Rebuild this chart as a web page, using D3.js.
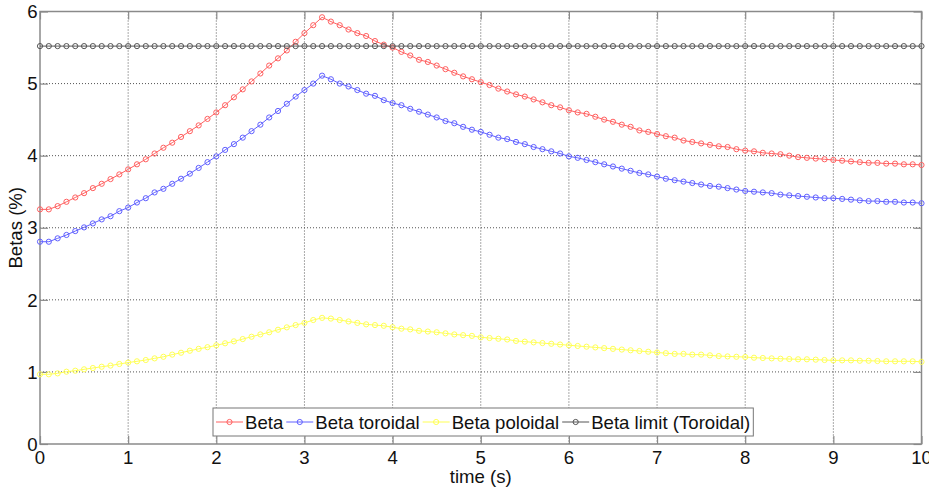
<!DOCTYPE html>
<html><head><meta charset="utf-8">
<script src="https://cdn.jsdelivr.net/npm/d3@7"></script>
<style>
html,body{margin:0;padding:0;background:#fff;}
svg{display:block;font-family:Arial,"Liberation Sans",sans-serif;}
</style></head>
<body><svg id="c" width="929" height="488"></svg>
<script>
const time = [0,0.1,0.2,0.3,0.4,0.5,0.6,0.7,0.8,0.9,1,1.1,1.2,1.3,1.4,1.5,1.6,1.7,1.8,1.9,2,2.1,2.2,2.3,2.4,2.5,2.6,2.7,2.8,2.9,3,3.1,3.2,3.3,3.4,3.5,3.6,3.7,3.8,3.9,4,4.1,4.2,4.3,4.4,4.5,4.6,4.7,4.8,4.9,5,5.1,5.2,5.3,5.4,5.5,5.6,5.7,5.8,5.9,6,6.1,6.2,6.3,6.4,6.5,6.6,6.7,6.8,6.9,7,7.1,7.2,7.3,7.4,7.5,7.6,7.7,7.8,7.9,8,8.1,8.2,8.3,8.4,8.5,8.6,8.7,8.8,8.9,9,9.1,9.2,9.3,9.4,9.5,9.6,9.7,9.8,9.9,10];
const beta = [3.255,3.255,3.30,3.36,3.42,3.48,3.55,3.61,3.675,3.74,3.81,
  3.88,3.95,4.03,4.11,4.18,4.26,4.34,4.42,4.51,4.60,
  4.70,4.81,4.92,5.03,5.14,5.25,5.35,5.46,5.58,5.70,
  5.81,5.92,5.86,5.81,5.75,5.70,5.66,5.59,5.54,5.50,
  5.44,5.39,5.33,5.30,5.25,5.20,5.15,5.10,5.06,5.02,
  4.98,4.93,4.89,4.85,4.82,4.78,4.74,4.70,4.67,4.63,
  4.60,4.58,4.54,4.50,4.47,4.43,4.40,4.35,4.33,4.30,
  4.27,4.25,4.21,4.19,4.17,4.15,4.13,4.12,4.09,4.07,
  4.06,4.04,4.03,4.02,4.00,3.98,3.97,3.96,3.95,3.94,
  3.93,3.92,3.91,3.90,3.90,3.89,3.89,3.88,3.88,3.87];
const betaToroidal = [2.806,2.806,2.853,2.90,2.954,3.005,3.06,3.116,3.16,3.23,3.28,
  3.35,3.41,3.49,3.54,3.61,3.68,3.75,3.83,3.91,3.99,
  4.08,4.16,4.25,4.34,4.43,4.53,4.62,4.72,4.82,4.91,
  5.00,5.11,5.06,5.00,4.96,4.91,4.86,4.83,4.77,4.73,
  4.70,4.65,4.61,4.57,4.53,4.48,4.45,4.40,4.36,4.33,
  4.29,4.25,4.23,4.19,4.16,4.12,4.09,4.06,4.03,3.99,
  3.97,3.94,3.91,3.88,3.85,3.82,3.79,3.76,3.74,3.71,
  3.68,3.66,3.64,3.62,3.60,3.58,3.57,3.55,3.53,3.51,
  3.50,3.49,3.48,3.46,3.45,3.44,3.43,3.42,3.41,3.41,
  3.40,3.39,3.38,3.37,3.37,3.36,3.36,3.35,3.35,3.34];
const betaPoloidal = [0.967,0.967,0.98,1.003,1.017,1.036,1.054,1.072,1.088,1.11,1.13,
  1.147,1.165,1.188,1.21,1.24,1.266,1.294,1.32,1.343,1.369,
  1.397,1.424,1.456,1.488,1.52,1.55,1.585,1.618,1.65,1.68,
  1.72,1.75,1.74,1.72,1.70,1.68,1.66,1.65,1.64,1.62,
  1.60,1.59,1.57,1.56,1.55,1.535,1.52,1.51,1.50,1.48,
  1.47,1.46,1.45,1.43,1.42,1.41,1.40,1.39,1.38,1.37,
  1.36,1.35,1.34,1.33,1.32,1.31,1.30,1.29,1.28,1.27,
  1.26,1.25,1.25,1.24,1.24,1.23,1.22,1.215,1.21,1.207,
  1.197,1.193,1.188,1.183,1.179,1.175,1.175,1.17,1.165,1.16,
  1.16,1.16,1.155,1.155,1.151,1.147,1.147,1.147,1.147,1.14];
const betaLimit = [5.52,5.52,5.52,5.52,5.52,5.52,5.52,5.52,5.52,5.52,5.52,
  5.52,5.52,5.52,5.52,5.52,5.52,5.52,5.52,5.52,5.52,
  5.52,5.52,5.52,5.52,5.52,5.52,5.52,5.52,5.52,5.52,
  5.52,5.52,5.52,5.52,5.52,5.52,5.52,5.52,5.52,5.52,
  5.52,5.52,5.52,5.52,5.52,5.52,5.52,5.52,5.52,5.52,
  5.52,5.52,5.52,5.52,5.52,5.52,5.52,5.52,5.52,5.52,
  5.52,5.52,5.52,5.52,5.52,5.52,5.52,5.52,5.52,5.52,
  5.52,5.52,5.52,5.52,5.52,5.52,5.52,5.52,5.52,5.52,
  5.52,5.52,5.52,5.52,5.52,5.52,5.52,5.52,5.52,5.52,
  5.52,5.52,5.52,5.52,5.52,5.52,5.52,5.52,5.52,5.52];
const seriesNames = ["Beta","Beta toroidal","Beta poloidal","Beta limit (Toroidal)"];
const seriesColors = ["#ff6060","#6060ff","#ffff55","#555555"];
const xTicks = [0,1,2,3,4,5,6,7,8,9,10];
const yTicks = [0,1,2,3,4,5,6];
const xLabel = "time (s)";
const yLabel = "Betas (%)";

const seriesValues = [beta, betaToroidal, betaPoloidal, betaLimit];
const svg = d3.select("#c");
const L = 40, R = 921.5, T = 11.5, B = 444;
const x = d3.scaleLinear().domain([0,10]).range([L,R]);
const y = d3.scaleLinear().domain([0,6]).range([B,T]);
const fs = 18.6;

// grid
const grid = svg.append("g");
xTicks.slice(1,-1).forEach(t => grid.append("line").attr("x1",x(t)).attr("x2",x(t)).attr("y1",T).attr("y2",B)
  .attr("stroke","#555").attr("stroke-width",1).attr("stroke-dasharray","1,2"));
yTicks.slice(1,-1).forEach(t => grid.append("line").attr("y1",y(t)).attr("y2",y(t)).attr("x1",L).attr("x2",R)
  .attr("stroke","#555").attr("stroke-width",1).attr("stroke-dasharray","1,2"));

// axes via d3 axis (inner ticks)
const axC = "#8a8a8a";
const styleAxis = g => { g.select(".domain").remove(); g.selectAll(".tick line").attr("stroke",axC).attr("stroke-width",1.2); g.selectAll("text").remove(); };
svg.append("g").attr("transform",`translate(0,${B})`).call(d3.axisBottom(x).tickValues(xTicks).tickSizeInner(-8).tickSizeOuter(0)).call(styleAxis);
svg.append("g").attr("transform",`translate(0,${T})`).call(d3.axisTop(x).tickValues(xTicks).tickSizeInner(-8).tickSizeOuter(0)).call(styleAxis);
svg.append("g").attr("transform",`translate(${L},0)`).call(d3.axisLeft(y).tickValues(yTicks).tickSizeInner(-8).tickSizeOuter(0)).call(styleAxis);
svg.append("g").attr("transform",`translate(${R},0)`).call(d3.axisRight(y).tickValues(yTicks).tickSizeInner(-8).tickSizeOuter(0)).call(styleAxis);
svg.append("rect").attr("x",L).attr("y",T).attr("width",R-L).attr("height",B-T).attr("fill","none").attr("stroke",axC).attr("stroke-width",1.5);

// tick labels
svg.append("g").selectAll("text").data(xTicks).join("text")
  .attr("x",d=>x(d)).attr("y",B+19.5).attr("text-anchor","middle").attr("font-size",fs).attr("fill","#111").text(d=>d);
svg.append("g").selectAll("text").data(yTicks).join("text")
  .attr("x",L-2.5).attr("y",d=>y(d)+6.7).attr("text-anchor","end").attr("font-size",fs).attr("fill","#111").text(d=>d);
svg.append("text").attr("x",(L+R)/2).attr("y",483).attr("text-anchor","middle").attr("font-size",fs).attr("fill","#111").text(xLabel);
svg.append("text").attr("transform",`translate(22,${(T+B)/2}) rotate(-90)`).attr("text-anchor","middle").attr("font-size",fs).attr("fill","#111").text(yLabel);

// series
const line = d3.line().x((d,i)=>x(time[i])).y(d=>y(d));
const plot = svg.append("g");
seriesValues.forEach((vals,k) => {
  plot.append("path").attr("d",line(vals)).attr("fill","none").attr("stroke",seriesColors[k]).attr("stroke-width",1);
  plot.append("g").selectAll("circle").data(vals).join("circle")
    .attr("cx",(d,i)=>x(time[i])).attr("cy",d=>y(d)).attr("r",2.6)
    .attr("fill","none").attr("stroke",seriesColors[k]).attr("stroke-width",1);
});

// legend
const lg = svg.append("g");
const box = lg.append("rect").attr("fill","#fff").attr("stroke","#777").attr("stroke-width",1);
let cx = 216;
const ly = 422;
seriesNames.forEach((n,k) => {
  lg.append("line").attr("x1",cx).attr("x2",cx+27).attr("y1",ly).attr("y2",ly).attr("stroke",seriesColors[k]).attr("stroke-width",1);
  lg.append("circle").attr("cx",cx+13.5).attr("cy",ly).attr("r",2.6).attr("fill","none").attr("stroke",seriesColors[k]);
  const t = lg.append("text").attr("x",cx+29).attr("y",ly+6.5).attr("font-size",fs).attr("fill","#111").text(n);
  cx = cx + 29 + t.node().getComputedTextLength() + 3;
});
box.attr("x",213).attr("y",408).attr("width",Math.max(cx-213, 539)).attr("height",28);
</script></body></html>
